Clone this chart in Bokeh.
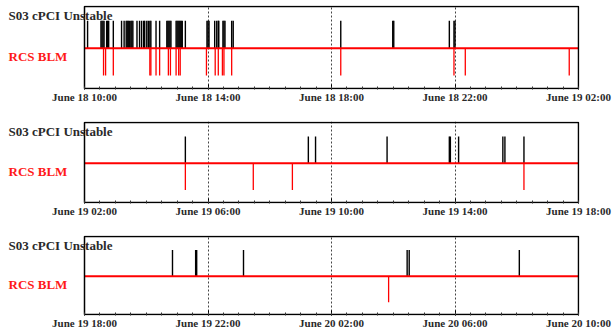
from bokeh.plotting import figure
from bokeh.layouts import column
from bokeh.models import FixedTicker, Label, Range1d, ColumnDataSource
from bokeh.embed import file_html
from bokeh.resources import INLINE

# ---------------- data ----------------
panel_starts = ["06-18 10:00", "06-19 02:00", "06-19 18:00"]
panel_span_hours = 16
tick_step_hours = 4
minor_step_hours = 0.5

tick_labels_1 = ["June 18 10:00", "June 18 14:00", "June 18 18:00", "June 18 22:00", "June 19 02:00"]
tick_labels_2 = ["June 19 02:00", "June 19 06:00", "June 19 10:00", "June 19 14:00", "June 19 18:00"]
tick_labels_3 = ["June 19 18:00", "June 19 22:00", "June 20 02:00", "June 20 06:00", "June 20 10:00"]

series_names = ["S03 cPCI Unstable", "RCS BLM"]

cpci_1 = ["06-18 10:06", "06-18 10:32", "06-18 10:34", "06-18 10:36", "06-18 10:38",
          "06-18 10:43", "06-18 10:45", "06-18 10:47", "06-18 10:56", "06-18 11:12",
          "06-18 11:17", "06-18 11:21", "06-18 11:23", "06-18 11:25", "06-18 11:27",
          "06-18 11:30", "06-18 11:32", "06-18 11:34", "06-18 11:42", "06-18 11:47",
          "06-18 11:51", "06-18 11:55", "06-18 11:57", "06-18 12:01", "06-18 12:04",
          "06-18 12:07", "06-18 12:09", "06-18 12:19", "06-18 12:26", "06-18 12:40",
          "06-18 12:42", "06-18 12:44", "06-18 12:46", "06-18 12:48", "06-18 12:58",
          "06-18 13:00", "06-18 13:02", "06-18 13:04", "06-18 13:06", "06-18 13:08",
          "06-18 13:10", "06-18 13:16", "06-18 13:58", "06-18 14:00", "06-18 14:02",
          "06-18 14:13", "06-18 14:17", "06-18 14:20", "06-18 14:21", "06-18 14:29",
          "06-18 14:31", "06-18 14:33", "06-18 14:46", "06-18 14:49", "06-18 18:18",
          "06-18 19:59", "06-18 20:01", "06-18 21:49", "06-18 21:58", "06-18 22:00"]
blm_1 = ["06-18 10:37", "06-18 10:41", "06-18 10:56", "06-18 12:07", "06-18 12:09",
         "06-18 12:19", "06-18 12:26", "06-18 12:43", "06-18 12:47", "06-18 12:58",
         "06-18 13:03", "06-18 13:06", "06-18 13:57", "06-18 14:14", "06-18 14:20",
         "06-18 14:28", "06-18 14:31", "06-18 14:46", "06-18 18:18", "06-18 21:58",
         "06-18 22:20", "06-19 01:42"]

cpci_2 = ["06-19 05:16", "06-19 09:15", "06-19 09:29", "06-19 11:48", "06-19 13:49",
          "06-19 13:51", "06-19 14:07", "06-19 15:33", "06-19 15:37", "06-19 16:14"]
blm_2 = ["06-19 05:16", "06-19 07:28", "06-19 08:44", "06-19 16:14"]

cpci_3 = ["06-19 20:51", "06-19 21:36", "06-19 21:38", "06-19 23:09", "06-20 04:27",
          "06-20 04:31", "06-20 08:05"]
blm_3 = ["06-20 03:51"]


def to_hours(s):
    """'MM-DD HH:MM' -> hours since June 18 00:00"""
    md, hm = s.split(" ")
    day = int(md.split("-")[1])
    h, m = hm.split(":")
    return (day - 18) * 24 + int(h) + int(m) / 60.0


# ---------------- layout constants ----------------
BOX_LEFT_PX = 84      # where the plotting box starts inside the canvas
FRAME_W = 494         # width of the plotting box (16 h)
BORDER_R = 34
SERIF = "Liberation Serif"
Y_LO, Y_HI = -1.47, 1.52


def make_panel(start, labels, cpci, blm, box_h, b_top, b_bot):
    x0 = to_hours(start)
    x1 = x0 + panel_span_hours
    pxh = FRAME_W / panel_span_hours
    xa = x0 - BOX_LEFT_PX / pxh
    xb = x1 + 1.0 / pxh
    d = (Y_HI - Y_LO) / box_h  # one pixel in y units
    height = b_top + box_h + 2 + b_bot
    p = figure(width=BOX_LEFT_PX + FRAME_W + 1 + BORDER_R, height=height,
               x_range=Range1d(xa, xb), y_range=Range1d(Y_LO - d, Y_HI + d),
               output_backend="svg", toolbar_location=None, y_axis_type=None,
               min_border_left=0, min_border_right=BORDER_R,
               min_border_top=b_top, min_border_bottom=b_bot)
    p.background_fill_color = "white"
    p.border_fill_color = "white"
    p.outline_line_color = None

    nmaj = int(panel_span_hours / tick_step_hours) + 1
    ticks = [int(round(x0 + tick_step_hours * i)) for i in range(nmaj)]
    nmin = int(panel_span_hours / minor_step_hours) + 1
    minors = [x0 + minor_step_hours * i for i in range(nmin)]
    ax = p.xaxis[0]
    ax.ticker = FixedTicker(ticks=ticks, minor_ticks=minors)
    ax.major_label_overrides = {t: lab for t, lab in zip(ticks, labels)}
    ax.axis_line_color = None
    ax.major_tick_in = 5
    ax.major_tick_out = 0
    ax.minor_tick_in = 3
    ax.minor_tick_out = 0
    ax.major_tick_line_color = "black"
    ax.minor_tick_line_color = "#333333"
    ax.major_label_standoff = 1
    ax.major_label_text_font = SERIF
    ax.major_label_text_font_style = "bold"
    ax.major_label_text_font_size = "11px"
    ax.major_label_text_color = "#2a2a2a"

    p.xgrid.ticker = FixedTicker(ticks=ticks[1:-1])
    p.xgrid.grid_line_color = "#444444"
    p.xgrid.grid_line_dash = "2 2"
    p.xgrid.grid_line_width = 1
    p.ygrid.visible = False

    hc = [to_hours(s) for s in cpci]
    hb = [to_hours(s) for s in blm]
    src_c = ColumnDataSource(dict(x=hc, y0=[0] * len(hc), y1=[1] * len(hc)))
    src_b = ColumnDataSource(dict(x=hb, y0=[0] * len(hb), y1=[-1] * len(hb)))
    p.segment(x0="x", y0="y0", x1="x", y1="y1", source=src_c, line_color="black", line_width=1.4)
    p.segment(x0="x", y0="y0", x1="x", y1="y1", source=src_b, line_color="#ff0000", line_width=1.3)

    # red baseline across the box
    p.segment(x0=[x0], y0=[0], x1=[x1], y1=[0], line_color="#ff0000", line_width=2)

    # plotting box
    p.quad(left=[x0], right=[x1], bottom=[Y_LO], top=[Y_HI], fill_color=None,
           line_color="black", line_width=1.5)

    lx = xa + 8.0 / pxh
    p.add_layout(Label(x=lx, y=1.18, text=series_names[0], text_font=SERIF,
                       text_font_style="bold", text_font_size="13px",
                       text_color="#2a2a2a", text_baseline="middle", text_align="left"))
    p.add_layout(Label(x=lx, y=-0.31, text=series_names[1], text_font=SERIF,
                       text_font_style="bold", text_font_size="13px",
                       text_color="#ff1a1a", text_baseline="middle", text_align="left"))
    return p


p1 = make_panel(panel_starts[0], tick_labels_1, cpci_1, blm_1, 82, 5, 31)
p2 = make_panel(panel_starts[1], tick_labels_2, cpci_2, blm_2, 80, 1, 31)
p3 = make_panel(panel_starts[2], tick_labels_3, cpci_3, blm_3, 82, 1, 12)

layout = column(p1, p2, p3, spacing=0)
open("out.html", "w").write(file_html(layout, INLINE))
